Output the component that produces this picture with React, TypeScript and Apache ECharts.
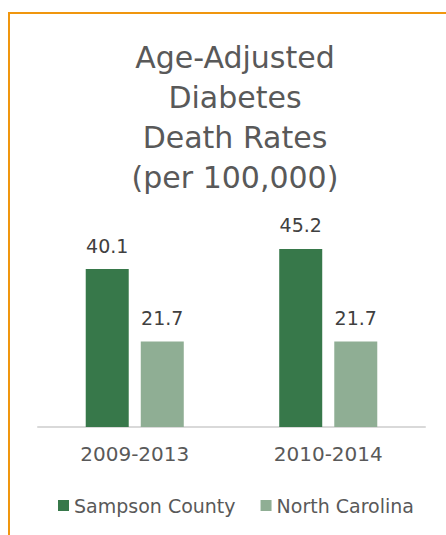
import React, { useEffect, useRef } from "react";
import * as echarts from "echarts";

const categories = ["2009-2013", "2010-2014"];
const sampsonCounty = [40.1, 45.2];
const northCarolina = [21.7, 21.7];
const seriesNames = ["Sampson County", "North Carolina"];
const titleLines = ["Age-Adjusted", "Diabetes", "Death Rates", "(per 100,000)"];

const FONT = "DejaVu Sans";

export default function App() {
  const ref = useRef<HTMLDivElement>(null);
  useEffect(() => {
    if (!ref.current) return;
    const chart = echarts.init(ref.current, null, { renderer: "svg" });
    chart.setOption({
      animation: false,
      backgroundColor: "#ffffff",
      title: {
        text: titleLines.join("\n"),
        left: 230,
        top: 32,
        textAlign: "center",
        textStyle: {
          fontFamily: FONT,
          fontSize: 30,
          fontWeight: "normal",
          color: "#595959",
          lineHeight: 40,
        },
      },
      graphic: [
        { type: "line", shape: { x1: 8, y1: 13, x2: 446, y2: 13 }, style: { stroke: "#F0960E", lineWidth: 2 } },
        { type: "line", shape: { x1: 9, y1: 13, x2: 9, y2: 535 }, style: { stroke: "#F0960E", lineWidth: 2 } },
      ],
      legend: {
        data: seriesNames,
        left: 53,
        top: 491,
        itemWidth: 11,
        itemHeight: 11,
        itemGap: 25,
        icon: "rect",
        textStyle: { fontFamily: FONT, fontSize: 19, color: "#595959" },
      },
      grid: { left: 38, right: 21, top: 230, bottom: 108 },
      xAxis: {
        type: "category",
        data: categories,
        axisLine: { show: true, lineStyle: { color: "#D9D9D9", width: 2 } },
        axisTick: { show: false },
        axisLabel: { fontFamily: FONT, fontSize: 20, color: "#595959", margin: 17 },
      },
      yAxis: {
        type: "value",
        min: 0,
        max: 50,
        show: false,
        splitLine: { show: false },
      },
      series: [
        {
          name: seriesNames[0],
          type: "bar",
          data: sampsonCounty,
          barWidth: 43,
          barGap: "28%",
          itemStyle: { color: "#37784A" },
          label: { show: true, position: "top", distance: 14, fontFamily: FONT, fontSize: 19, color: "#404040" },
        },
        {
          name: seriesNames[1],
          type: "bar",
          data: northCarolina,
          barWidth: 43,
          barGap: "28%",
          itemStyle: { color: "#8FAE94" },
          label: { show: true, position: "top", distance: 14, fontFamily: FONT, fontSize: 19, color: "#404040" },
        },
      ],
    });
    return () => chart.dispose();
  }, []);
  return (
    <div
      ref={ref}
      style={{ position: "fixed", left: 0, top: 0, width: 446, height: 535 }}
    />
  );
}
